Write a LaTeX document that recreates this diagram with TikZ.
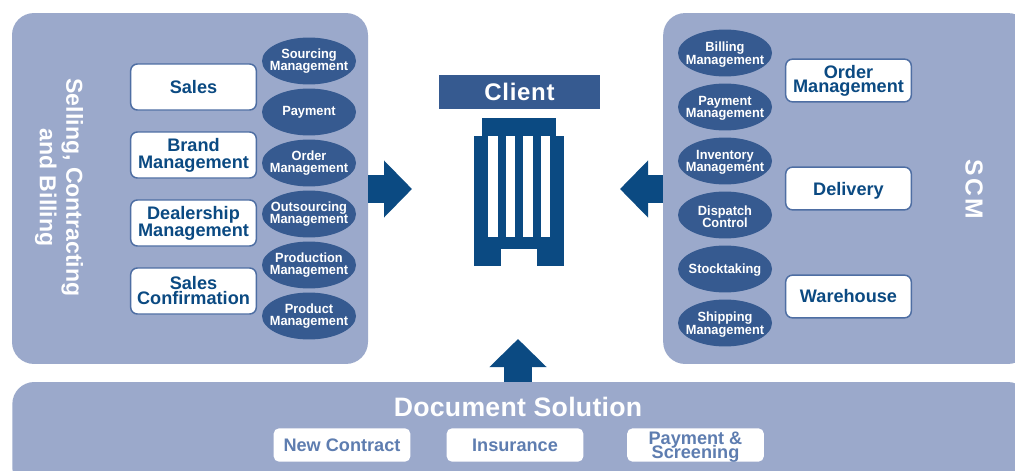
\documentclass[tikz,border=0pt]{standalone}
\usepackage{fontspec}
\setmainfont{Liberation Sans}
\newfontfamily\spacedfont[LetterSpace=9]{Liberation Sans}
\newfontfamily\clientfont[LetterSpace=3]{Liberation Sans}
\newfontfamily\widefont[LetterSpace=1]{Liberation Sans}
\newfontfamily\ovalfont[FakeStretch=0.96]{Liberation Sans}
\usetikzlibrary{shapes.geometric,arrows.meta}
\lineskiplimit=-30pt
\newcommand\nodepth[1]{\raisebox{0pt}[\height][0pt]{#1}}
\definecolor{panelblue}{HTML}{9BA9CB}
\definecolor{ellblue}{HTML}{365A90}
\definecolor{navy}{HTML}{0B4A82}
\definecolor{edgeblue}{HTML}{4E6EA3}
\definecolor{softblue}{HTML}{5E7DB0}
\tikzset{
  x=0.75pt,y=-0.75pt,
  panel/.style={fill=panelblue,draw=none,rounded corners=16.5pt,inner sep=0pt,outer sep=0pt},
  mainbox/.style={fill=white,draw=edgeblue,line width=1.1pt,rounded corners=5pt,minimum width=94.2pt,
    inner sep=0pt,align=center,text=navy,font=\bfseries\fontsize{13.6}{12.75}\selectfont},
  tight/.style={font=\bfseries\fontsize{13.6}{#1}\selectfont},
  oval/.style={ellipse,fill=ellblue,draw=none,minimum width=70.5pt,minimum height=35.2pt,inner sep=0pt,outer sep=0pt},
  ovaltext/.style={text=white,align=center,inner sep=0pt,font=\bfseries\ovalfont\fontsize{10}{9.2}\selectfont},
  ovaltextr/.style={ovaltext,yshift=-1.1pt},
  subbox/.style={fill=white,draw=none,rounded corners=4pt,minimum width=102.5pt,minimum height=25pt,
    inner sep=0pt,align=center,text=softblue,font=\bfseries\fontsize{13.6}{10.5}\selectfont},
  sidetitle/.style={text=white,rotate=-90,align=center,inner sep=0pt,font=\bfseries\fontsize{17.3}{20}\selectfont},
  flow/.style={draw=navy,line width=21pt,-{Triangle[length=21pt,width=41.5pt,fill=navy]}},
  solid block/.style={fill=navy,draw=none},
}
\begin{document}
\begin{tikzpicture}
\clip (0,0) rectangle (1015,471);
\fill[white] (0,0) rectangle (1015,471);

% panels
\node[panel,minimum width=267pt,minimum height=263.2pt] (left) at (190,188.5) {};
\node[panel,minimum width=275pt,minimum height=263.2pt] (right) at (846.5,188.5) {};
\node[panel,minimum width=763pt,minimum height=81pt] (bottom) at (521,436) {};

% panel titles
\node[sidetitle] (lefttitle) at (59,187.5) {Selling, Contracting\\and Billing};
\node[sidetitle,font=\bfseries\spacedfont\fontsize{18.5}{20}\selectfont] (scmtitle) at (974,189) {SCM};
\node[text=white,inner sep=0pt,font=\bfseries\widefont\fontsize{20}{22}\selectfont] (doctitle) at (518,407) {Document Solution};

% left boxes
\node[mainbox,minimum height=34.5pt] (sales) at (193.5,87) {Sales};
\node[mainbox,minimum height=34.5pt] (brand) at (193.5,155) {Brand\\Management};
\node[mainbox,minimum height=34.5pt] (dealer) at (193.5,223) {Dealership\\Management};
\node[mainbox,minimum height=34.5pt,tight=11.25] (confirm) at (193.5,291) {Sales\\Confirmation};

% left ovals
\node[oval,label={[ovaltext]center:Sourcing\\Management}] (sourcing) at (309,61) {};
\node[oval,label={[ovaltext]center:Payment}] (payment) at (309,112) {};
\node[oval,label={[ovaltext]center:Order\\Management}] (order) at (309,163) {};
\node[oval,label={[ovaltext]center:Outsourcing\\Management}] (outsourcing) at (309,214) {};
\node[oval,label={[ovaltext]center:Production\\Management}] (production) at (309,265) {};
\node[oval,label={[ovaltext]center:Product\\Management}] (product) at (309,316) {};

% right ovals
\node[oval,label={[ovaltextr]center:Billing\\Management}] (billing) at (725,53) {};
\node[oval,label={[ovaltextr]center:Payment\\Management}] (paymgmt) at (725,107) {};
\node[oval,label={[ovaltextr]center:Inventory\\Management}] (inventory) at (725,161) {};
\node[oval,label={[ovaltextr]center:Dispatch\\Control}] (dispatch) at (725,215) {};
\node[oval,label={[ovaltextr]center:Stocktaking}] (stock) at (725,269) {};
\node[oval,label={[ovaltextr]center:Shipping\\Management}] (shipping) at (725,323) {};

% right boxes
\node[mainbox,minimum height=32pt,tight=10.5] (ordermgmt) at (848.5,80.5) {Order\\Management};
\node[mainbox,minimum height=32pt] (delivery) at (848.5,188.5) {\nodepth{Delivery}};
\node[mainbox,minimum height=32pt] (warehouse) at (848.5,296.5) {Warehouse};

% document boxes
\node[subbox] (contract) at (342,445) {New Contract};
\node[subbox] (insurance) at (515,445) {Insurance};
\node[subbox] (screening) at (695.5,445) {Payment \&\\\nodepth{Screening}};

% client
\node[fill=ellblue,minimum width=120.75pt,minimum height=25.5pt,inner sep=0pt,text=white,
  font=\bfseries\clientfont\fontsize{18}{20}\selectfont] (client) at (519.5,92) {\raisebox{-.5pt}{Client}};
\fill[solid block] (482,118) rectangle (556,136);
\fill[solid block] (474,136) rectangle (564,266);
\fill[white] (488,136) rectangle (498,237);
\fill[white] (505.5,136) rectangle (515,237);
\fill[white] (523,136) rectangle (532.5,237);
\fill[white] (541,136) rectangle (550,237);
\fill[white] (501,249) rectangle (537,266.5);

% flows
\coordinate (lefttip) at (412,189);
\coordinate (righttip) at (620,189);
\coordinate (uptip) at (518,339);
\draw[flow] (left.east |- lefttip) -- (lefttip);
\draw[flow] (right.west |- righttip) -- (righttip);
\draw[flow] (bottom.north -| uptip) -- (uptip);
\end{tikzpicture}
\end{document}
